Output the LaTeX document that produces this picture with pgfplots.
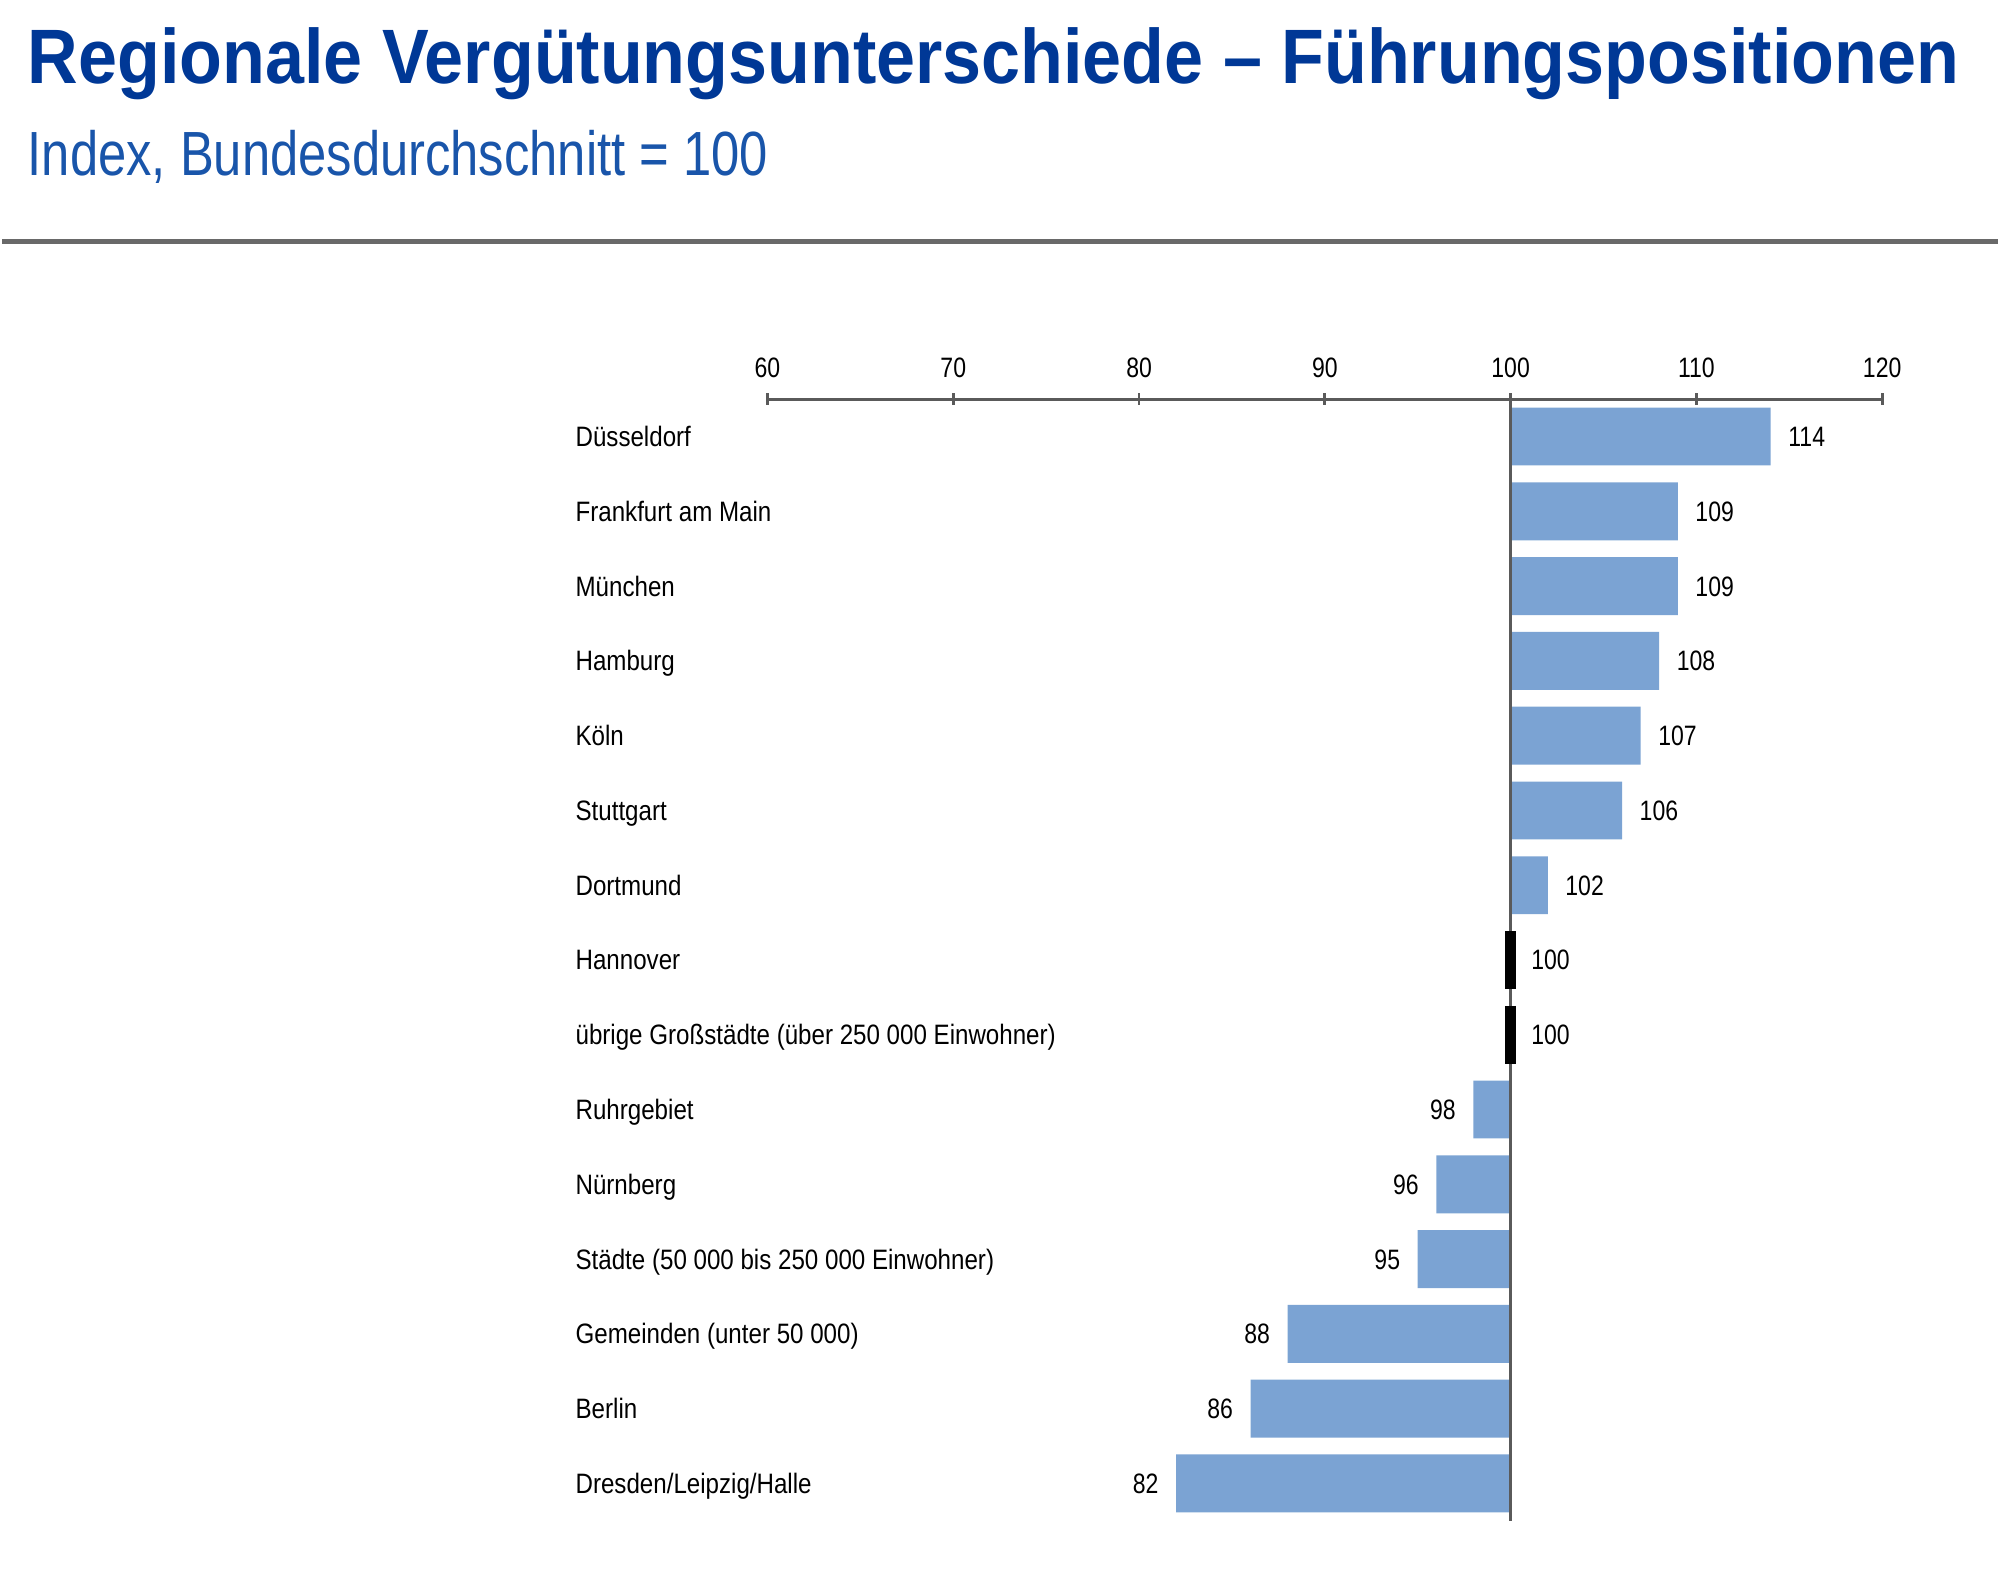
\documentclass[border=0pt]{standalone}
\usepackage{fontspec}
\setmainfont{Liberation Sans}
\usepackage{graphicx}
\usepackage{pgfplots}
\pgfplotsset{compat=1.18}
\usepackage{pgfplotstable}
\definecolor{titleblue}{RGB}{0,56,150}
\definecolor{subblue}{RGB}{25,85,170}
\definecolor{barblue}{RGB}{123,163,211}
\definecolor{axisgray}{RGB}{90,90,90}
\newcommand{\lab}[1]{\scalebox{0.86}[1]{#1}}
\newcommand{\nr}[1]{\scalebox{0.82}[1]{#1}}

\pgfplotstableread{
y v
14 114
13 109
12 109
11 108
10 107
9 106
8 102
}\pos
\pgfplotstableread{
y v
7 100
6 100
}\neutral
\pgfplotstableread{
y v
5 98
4 96
3 95
2 88
1 86
0 82
}\neg

\begin{document}
\begin{tikzpicture}
\path (0,0) rectangle (20,15.92);
\node[anchor=base west, inner sep=0pt, text=titleblue] at (0.25,15.08)
  {\resizebox{19.35cm}{\height}{\fontsize{22}{26}\selectfont\bfseries Regionale Vergütungsunterschiede – Führungspositionen}};
\node[anchor=base west, inner sep=0pt, text=subblue] at (0.25,14.16)
  {\resizebox{7.42cm}{\height}{\fontsize{17.8}{20}\selectfont Index, Bundesdurchschnitt = 100}};
\draw[color={rgb,255:red,105;green,105;blue,105}, line width=1.2pt] (0,13.50) -- (20,13.50);

\begin{axis}[
  at={(7.67cm,0.68cm)}, anchor=south west,
  scale only axis, width=11.17cm, height=11.24cm,
  xmin=60, xmax=120, ymin=-0.5, ymax=14.5,
  x coord trafo/.code={\pgfmathparse{#1-100}},
  x coord inv trafo/.code={\pgfmathparse{#1+100}},
  /pgf/number format/assume math mode=true,
  axis x line*=top, axis y line*=left,
  y axis line style={draw=none},
  x axis line style={axisgray, line width=0.8pt},
  xtick={60,70,80,90,100,110,120},
  xticklabels={\nr{60},\nr{70},\nr{80},\nr{90},\nr{100},\nr{110},\nr{120}},
  x tick style={axisgray, line width=0.8pt},
  major tick length=0.12cm, tick align=center,
  ytick={0,...,14},
  y tick style={draw=none},
  yticklabels={\lab{Dresden/Leipzig/Halle},\lab{Berlin},\lab{Gemeinden (unter 50 000)},\lab{Städte (50 000 bis 250 000 Einwohner)},\lab{Nürnberg},\lab{Ruhrgebiet},\lab{übrige Großstädte (über 250 000 Einwohner)},\lab{Hannover},\lab{Dortmund},\lab{Stuttgart},\lab{Köln},\lab{Hamburg},\lab{München},\lab{Frankfurt am Main},\lab{Düsseldorf}},
  yticklabel style={anchor=base west, inner sep=0pt, xshift=-1.87cm, yshift=-0.1cm, font=\fontsize{8}{9}\selectfont},
  xticklabel style={font=\fontsize{8}{9}\selectfont, yshift=0.03cm},
  clip=false,
]
\addplot[xbar, bar width=0.58cm, fill=barblue, draw=none] table[x=v,y=y]{\pos};
\addplot[xbar, bar width=0.58cm, fill=barblue, draw=none] table[x=v,y=y]{\neg};
\draw[axisgray, line width=0.8pt] (axis cs:100,-0.5) -- (axis cs:100,14.5);
\addplot[only marks, mark=|, mark size=0.29cm, mark options={line width=3pt, black}] table[x=v,y=y]{\neutral};
\addplot[draw=none, mark=none, point meta=explicit,
  nodes near coords={\nr{\pgfmathprintnumber{\pgfplotspointmeta}}},
  every node near coord/.style={anchor=base west, inner sep=0pt, xshift=0.17cm, yshift=-0.1cm, font=\fontsize{8}{9}\selectfont}]
  table[x=v,y=y,meta=v]{\pos};
\addplot[draw=none, mark=none, point meta=explicit,
  nodes near coords={\nr{\pgfmathprintnumber{\pgfplotspointmeta}}},
  every node near coord/.style={anchor=base west, inner sep=0pt, xshift=0.2cm, yshift=-0.1cm, font=\fontsize{8}{9}\selectfont}]
  table[x=v,y=y,meta=v]{\neutral};
\addplot[draw=none, mark=none, point meta=explicit,
  nodes near coords={\nr{\pgfmathprintnumber{\pgfplotspointmeta}}},
  every node near coord/.style={anchor=base east, inner sep=0pt, xshift=-0.17cm, yshift=-0.1cm, font=\fontsize{8}{9}\selectfont}]
  table[x=v,y=y,meta=v]{\neg};
\end{axis}
\end{tikzpicture}
\end{document}
